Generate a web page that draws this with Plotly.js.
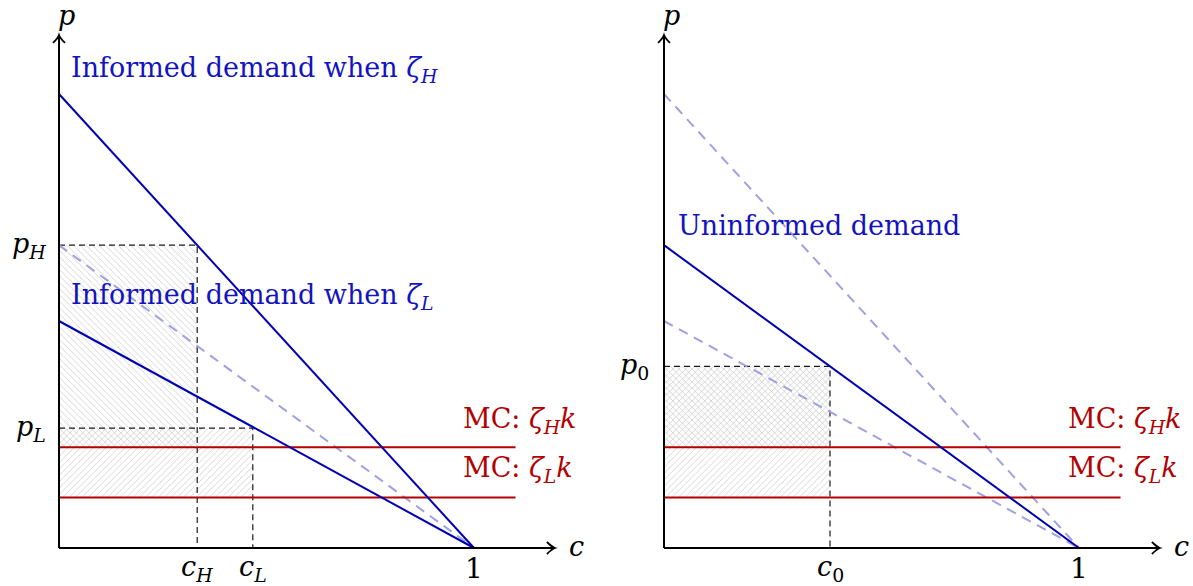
<!DOCTYPE html>
<html><head><meta charset="utf-8">
<script src="https://cdn.plot.ly/plotly-3.0.1.min.js"></script>
<style>html,body{margin:0;padding:0;background:#fff}</style>
</head><body><div id="chart" style="width:1193px;height:586px"></div>
<script>
// ---- data ----
const cEnds = [0, 1];                 // c at the vertical axis and at c = 1
const informedHigh = [1.0, 0];        // informed demand when zeta_H
const informedLow = [0.5, 0];         // informed demand when zeta_L
const uninformed = [0.667, 0];        // uninformed demand
const mcLevels = [0.222, 0.111];      // MC: zeta_H k, MC: zeta_L k
const mcEnd = 1.1;                    // MC lines end at this c
const leftMarksC = [0.333, 0.467];    // c_H, c_L
const leftMarksP = [0.667, 0.264];    // p_H, p_L
const rightMarkC = [0.4];             // c_0
const rightMarkP = [0.4];             // p_0
const leftCLabels = ['<i>c</i><sub><i>H</i></sub>', '<i>c</i><sub><i>L</i></sub>'];
const leftPLabels = ['<i>p</i><sub><i>H</i></sub>', '<i>p</i><sub><i>L</i></sub>'];
const rightCLabels = ['<i>c</i><sub>0</sub>'];
const rightPLabels = ['<i>p</i><sub>0</sub>'];
const mcLabels = ['MC: <i>ζ</i><sub><i>H</i></sub><i>k</i>', 'MC: <i>ζ</i><sub><i>L</i></sub><i>k</i>'];
const axisMax = [1.195, 1.13];        // arrow tips: c, p

// ---- styles ----
const BLUE = 'rgb(0,0,179)';
const RED = 'rgb(179,0,0)';
const LIGHT = 'rgb(160,160,228)';
const FONT = 'DejaVu Serif';
const FS = 27;

const traces = [];
function rect(xa, x0, x1, y0, y1, shape) {
  traces.push({x: [x0, x1, x1, x0, x0], y: [y0, y0, y1, y1, y0], xaxis: xa, yaxis: 'y',
    mode: 'lines', line: {width: 0, color: 'rgba(0,0,0,0)'}, fill: 'toself', fillcolor: 'rgba(0,0,0,0)',
    fillpattern: {shape: shape, fgcolor: 'rgb(195,195,195)', bgcolor: 'rgba(0,0,0,0)', size: 4.5, solidity: 0.15},
    hoverinfo: 'skip', showlegend: false});
}
function line(xa, xs, ys, color, width, dash) {
  traces.push({x: xs, y: ys, xaxis: xa, yaxis: 'y', mode: 'lines',
    line: {color: color, width: width, dash: dash || 'solid'}, hoverinfo: 'skip', showlegend: false});
}

// hatched regions
rect('x', 0, leftMarksC[0], mcLevels[0], leftMarksP[0], '\\');
rect('x', 0, leftMarksC[1], mcLevels[1], leftMarksP[1], '/');
rect('x2', 0, rightMarkC[0], mcLevels[0], rightMarkP[0], '\\');
rect('x2', 0, rightMarkC[0], mcLevels[1], rightMarkP[0], '/');

// guide lines (dashed black)
for (let i = 0; i < leftMarksC.length; i++) {
  line('x', [0, leftMarksC[i], leftMarksC[i]], [leftMarksP[i], leftMarksP[i], 0], 'rgb(25,25,25)', 1.2, '6px,4px');
}
line('x2', [0, rightMarkC[0], rightMarkC[0]], [rightMarkP[0], rightMarkP[0], 0], 'rgb(25,25,25)', 1.2, '6px,4px');

// light dashed demands
line('x', cEnds, uninformed, LIGHT, 2, '10px,7px');
line('x2', cEnds, informedHigh, LIGHT, 2, '10px,7px');
line('x2', cEnds, informedLow, LIGHT, 2, '10px,7px');

// MC lines
for (const m of mcLevels) {
  line('x', [0, mcEnd], [m, m], RED, 2);
  line('x2', [0, mcEnd], [m, m], RED, 2);
}
// demand lines
line('x', cEnds, informedHigh, BLUE, 2);
line('x', cEnds, informedLow, BLUE, 2);
line('x2', cEnds, uninformed, BLUE, 2);

// axes
const shapes = [];
const annotations = [];
const f = (size, color) => ({size: size, color: color, family: FONT});
for (const xa of ['x', 'x2']) {
  shapes.push({type: 'line', xref: xa, yref: 'y', x0: 0, y0: 0, x1: axisMax[0], y1: 0, line: {color: '#000', width: 2}});
  shapes.push({type: 'line', xref: xa, yref: 'y', x0: 0, y0: 0, x1: 0, y1: axisMax[1], line: {color: '#000', width: 2}});
  shapes.push({type: 'path', xref: xa, yref: 'y', xsizemode: 'pixel', ysizemode: 'pixel', xanchor: axisMax[0], yanchor: 0,
    path: 'M -8 6 Q -3 1 0 0 Q -3 -1 -8 -6', line: {color: '#000', width: 1.8}});
  shapes.push({type: 'path', xref: xa, yref: 'y', xsizemode: 'pixel', ysizemode: 'pixel', xanchor: 0, yanchor: axisMax[1],
    path: 'M -6 -8 Q -1 -3 0 0 Q 1 -3 6 -8', line: {color: '#000', width: 1.8}});
  annotations.push({xref: xa, yref: 'y', x: 1.224, y: 0.004, text: '<i>c</i>', showarrow: false, xanchor: 'left', yanchor: 'middle', font: f(FS, '#000')});
  annotations.push({xref: xa, yref: 'y', x: 0.017, y: 1.174, text: '<i>p</i>', showarrow: false, xanchor: 'center', yanchor: 'middle', font: f(FS, '#000')});
  annotations.push({xref: xa, yref: 'y', x: 1, y: -0.046, text: '1', showarrow: false, xanchor: 'center', yanchor: 'middle', font: f(28, '#000')});
  annotations.push({xref: xa, yref: 'y', x: 1.2506, y: mcLevels[0] + 0.058, text: mcLabels[0], showarrow: false, xanchor: 'right', yanchor: 'middle', font: f(FS, RED)});
  annotations.push({xref: xa, yref: 'y', x: 1.243, y: mcLevels[1] + 0.061, text: mcLabels[1], showarrow: false, xanchor: 'right', yanchor: 'middle', font: f(FS, RED)});
}
leftCLabels.forEach((t, i) => annotations.push({xref: 'x', yref: 'y', x: leftMarksC[i], y: -0.046, text: t, showarrow: false, xanchor: 'center', yanchor: 'middle', font: f(FS, '#000')}));
leftPLabels.forEach((t, i) => annotations.push({xref: 'x', yref: 'y', x: -0.027, y: leftMarksP[i], text: t, showarrow: false, xanchor: 'right', yanchor: 'middle', font: f(FS, '#000')}));
rightCLabels.forEach((t, i) => annotations.push({xref: 'x2', yref: 'y', x: rightMarkC[i], y: -0.046, text: t, showarrow: false, xanchor: 'center', yanchor: 'middle', font: f(FS, '#000')}));
rightPLabels.forEach((t, i) => annotations.push({xref: 'x2', yref: 'y', x: -0.032, y: rightMarkP[i], text: t, showarrow: false, xanchor: 'right', yanchor: 'middle', font: f(FS, '#000')}));
annotations.push({xref: 'x', yref: 'y', x: 0.0245, y: 1.053, text: 'Informed demand when <i>ζ</i><sub><i>H</i></sub>', showarrow: false, xanchor: 'left', yanchor: 'middle', font: f(FS, 'rgb(20,20,190)')});
annotations.push({xref: 'x', yref: 'y', x: 0.0245, y: 0.555, text: 'Informed demand when <i>ζ</i><sub><i>L</i></sub>', showarrow: false, xanchor: 'left', yanchor: 'middle', font: f(FS, 'rgb(20,20,190)')});
annotations.push({xref: 'x2', yref: 'y', x: 0.029, y: 0.711, text: 'Uninformed demand', showarrow: false, xanchor: 'left', yanchor: 'middle', font: f(FS, 'rgb(20,20,190)')});

const layout = {
  width: 1193, height: 586, margin: {l: 0, r: 0, t: 0, b: 0},
  font: {family: FONT, size: FS, color: '#000'},
  paper_bgcolor: '#fff', plot_bgcolor: '#fff', showlegend: false,
  xaxis: {domain: [0, 0.5], range: [-59 / 415, (596.5 - 59) / 415], visible: false, fixedrange: true},
  xaxis2: {domain: [0.5, 1], range: [(596.5 - 664) / 415, (1193 - 664) / 415], visible: false, anchor: 'y', fixedrange: true},
  yaxis: {domain: [0, 1], range: [-38 / 454, 548 / 454], visible: false, fixedrange: true},
  shapes: shapes, annotations: annotations
};
Plotly.newPlot('chart', traces, layout, {displayModeBar: false, staticPlot: true});
</script></body></html>
